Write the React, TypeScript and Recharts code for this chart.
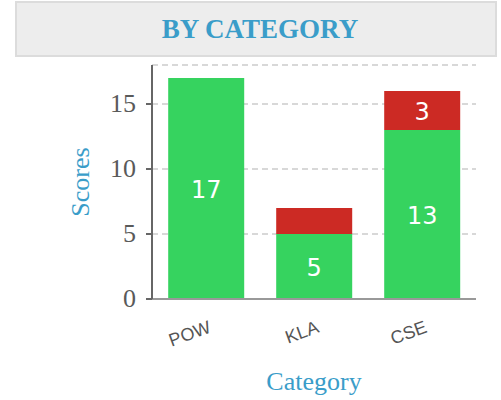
import React from "react";
import {
  BarChart,
  Bar,
  XAxis,
  YAxis,
  CartesianGrid,
  LabelList,
  Label,
} from "recharts";

const categories = ["POW", "KLA", "CSE"];
const passScores = [17, 5, 13];
const failScores = [0, 2, 3];
const yTicks = [0, 5, 10, 15];

const data = categories.map((name, i) => ({
  name,
  pass: passScores[i],
  fail: failScores[i],
}));

const BLUE = "#3a9dc9";

// only label segments tall enough to fit the number
const SegmentLabel = (props: any) => {
  const { x, y, width, height, value } = props;
  if (!value || height < 30) return null;
  return (
    <text
      x={x + width / 2}
      y={y + height / 2}
      dy={9}
      textAnchor="middle"
      fill="#fff"
      fontSize={24}
      fontFamily="DejaVu Sans"
    >
      {value}
    </text>
  );
};

const XTick = (props: any) => {
  const { x, y, payload } = props;
  const tx = x + 6;
  const ty = y + 25;
  return (
    <text
      x={tx}
      y={ty}
      transform={`rotate(-20, ${tx}, ${ty})`}
      textAnchor="end"
      fill="#555"
      fontSize={18}
      fontFamily="Liberation Sans"
    >
      {payload.value}
    </text>
  );
};

const YTick = (props: any) => {
  const { x, y, payload } = props;
  return (
    <text
      x={x}
      y={y}
      dy={8}
      textAnchor="end"
      fill="#5a5a5a"
      fontSize={26}
      fontFamily="Liberation Serif"
    >
      {payload.value}
    </text>
  );
};

export default function App() {
  return (
    <div
      style={{
        position: "absolute",
        left: 0,
        top: 0,
        width: 501,
        height: 400,
        background: "#fff",
      }}
    >
      <div
        style={{
          position: "absolute",
          left: 15,
          top: 1,
          width: 470,
          height: 52,
          background: "#ededed",
          border: "2px solid #dcdcdc",
          textAlign: "center",
          lineHeight: "52px",
          fontFamily: "Liberation Serif",
          fontWeight: "bold",
          fontSize: 27,
          color: BLUE,
          paddingLeft: 8,
          boxSizing: "content-box",
        }}
      >
        BY CATEGORY
      </div>
      <BarChart
        width={501}
        height={400}
        data={data}
        margin={{ top: 65, right: 25, bottom: 0, left: 0 }}
        barCategoryGap="15%"
        style={{ position: "absolute", left: 0, top: 0 }}
      >
        <CartesianGrid
          vertical={false}
          stroke="#ccc"
          strokeDasharray="6 4"
          strokeWidth={1.5}
        />
        <XAxis
          dataKey="name"
          height={101}
          tick={<XTick />}
          tickLine={false}
          axisLine={{ stroke: "#999", strokeWidth: 2 }}
        >
          <Label
            value="Category"
            position="insideTop"
            offset={73}
            fill={BLUE}
            fontSize={26}
            fontFamily="Liberation Serif"
          />
        </XAxis>
        <YAxis
          width={152}
          domain={[0, 18]}
          ticks={yTicks}
          tickSize={6}
          tickMargin={10}
          tick={<YTick />}
          tickLine={{ stroke: "#666", strokeWidth: 2 }}
          axisLine={{ stroke: "#666", strokeWidth: 2 }}
        >
          <Label
            value="Scores"
            angle={-90}
            position="center"
            dx={4}
            fill={BLUE}
            fontSize={26}
            fontFamily="Liberation Serif"
          />
        </YAxis>
        <Bar dataKey="pass" stackId="a" fill="#36d35f" isAnimationActive={false}>
          <LabelList dataKey="pass" content={<SegmentLabel />} />
        </Bar>
        <Bar dataKey="fail" stackId="a" fill="#cc2a24" isAnimationActive={false}>
          <LabelList dataKey="fail" content={<SegmentLabel />} />
        </Bar>
      </BarChart>
    </div>
  );
}
